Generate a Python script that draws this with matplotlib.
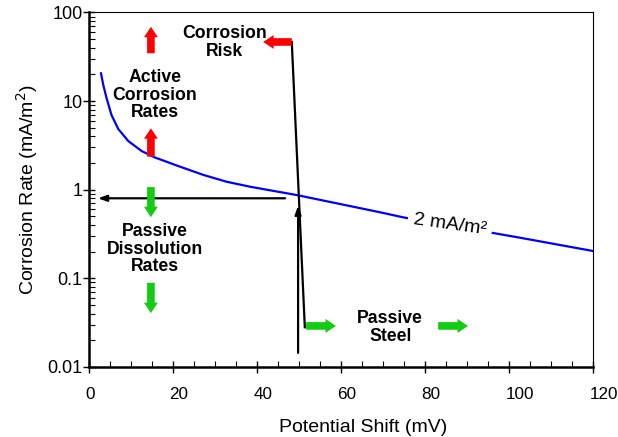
import matplotlib
matplotlib.use("Agg")
import matplotlib.pyplot as plt
import matplotlib.transforms as mtransforms
import numpy as np

plt.rcParams["font.family"] = ["Liberation Sans", "DejaVu Sans"]

# blue curve: corrosion rate vs potential shift
shift_mv = [2.93, 3.47, 4.28, 5.42, 7.04, 9.42, 12.6, 15.75, 21.7, 27.25, 32.8,
            38.4, 43.9, 49.5, 69.3, 75.2, 96.6, 102.6, 120]
rate = [20.6, 15.2, 10.7, 6.97, 4.84, 3.54, 2.73, 2.31, 1.82, 1.47, 1.23,
        1.08, 0.97, 0.87, 0.556, 0.483, 0.322, 0.287, 0.203]

# black construction lines
slant_x = [48.3, 51.4]
slant_y = [46.5, 0.028]
horiz_arrow = ((46.7, 0.80), (2.2, 0.80))   # (tail, head)
vert_arrow = ((49.8, 0.0144), (49.8, 0.66))

# block arrows (tail, head)
red_arrows = [((14.8, 34.7), (14.8, 69)), ((14.8, 2.36), (14.8, 4.93)),
              ((48.3, 46.5), (41.5, 46.5))]
green_arrows = [((14.8, 1.07), (14.8, 0.49)), ((14.8, 0.089), (14.8, 0.0405)),
                ((51.7, 0.029), (58.8, 0.029)), ((83.1, 0.029), (90.2, 0.029))]

labels = [
    ("Corrosion\nRisk", 32.4, 46),
    ("Active\nCorrosion\nRates", 15.8, 11.7),
    ("Passive\nDissolution\nRates", 15.8, 0.214),
    ("Passive\nSteel", 71.7, 0.028),
]

fig = plt.figure(figsize=(6.18, 4.37), dpi=100)
ax = fig.add_axes([0.1435, 0.1604, 0.8165, 0.811])

ax.plot(shift_mv, rate, color="#0000ff", lw=1.6, zorder=3)
ax.text(85.9, 0.40, "2 mA/m²", fontsize=14, rotation=-8, ha="center", va="center",
        bbox=dict(facecolor="white", edgecolor="none", pad=4), zorder=4)

ax.plot(slant_x, slant_y, color="black", lw=1.6, zorder=5)
for tail, head in (horiz_arrow, vert_arrow):
    ax.annotate("", xy=head, xytext=tail,
                arrowprops=dict(arrowstyle="-|>,head_length=0.5,head_width=0.18",
                                color="black", lw=1.6, shrinkA=0, shrinkB=0), zorder=5)

for arrows, col in ((red_arrows, "#ff0000"), (green_arrows, "#11cc11")):
    for tail, head in arrows:
        ax.annotate("", xy=head, xytext=tail,
                    arrowprops=dict(arrowstyle="simple,head_length=0.75,head_width=1.0,tail_width=0.55",
                                    color=col, lw=0, shrinkA=0, shrinkB=0, mutation_scale=10),
                    zorder=6)

for txt, x, y in labels:
    ax.text(x, y, txt, fontsize=12.7, fontweight="bold", ha="center", va="center",
            linespacing=1.05, zorder=7)

ax.set_yscale("log")
ax.set_ylim(0.01, 100)
ax.set_xlim(0, 120)
ax.set_xticks(np.arange(0, 121, 20))
ax.set_xticks(np.arange(0, 121, 5), minor=True)
ax.set_yticks([0.01, 0.1, 1, 10, 100])
ax.set_yticklabels(["0.01", "0.1", "1", "10", "100"])
ax.tick_params(which="major", direction="inout", length=9, width=1, labelsize=13, pad=0)
ax.tick_params(which="minor", direction="in", length=4, width=0.8)
ax.tick_params(axis="x", pad=10, labelsize=12.3)
ax.spines["left"].set_linewidth(1.8)
ax.spines["bottom"].set_linewidth(1.8)
ax.spines["top"].set_linewidth(0.8)
ax.spines["right"].set_linewidth(0.8)

ax.set_xlabel("Potential Shift (mV)", fontsize=14, labelpad=12, x=0.5436)
ax.set_ylabel("Corrosion Rate (mA/m$^2$)", fontsize=14, labelpad=5)

# tick labels sit to the right of their ticks in the original
shift = mtransforms.ScaledTranslation(-2.5 / 72, 0, fig.dpi_scale_trans)
for lab in ax.get_xticklabels():
    lab.set_horizontalalignment("left")
    lab.set_transform(lab.get_transform() + shift)

fig.savefig("out.png", dpi=100)
